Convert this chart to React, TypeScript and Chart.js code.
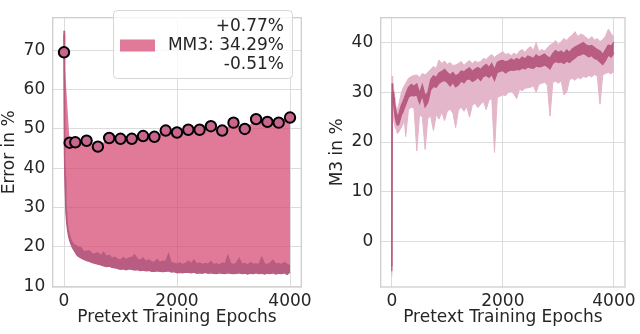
import React, { useEffect, useRef } from "react";
import { Chart, registerables } from "chart.js";

Chart.register(...registerables);

// ---------- data ----------
const EPOCHS = [
  0, 5, 10, 15, 20, 30, 40, 50, 60, 80,
  100, 125, 150, 175, 200, 225, 250, 300, 350, 400,
  450, 500, 550, 600, 650, 700, 750, 800, 850, 900,
  950, 1000, 1050, 1100, 1150, 1200, 1250, 1300, 1350, 1400,
  1450, 1500, 1550, 1600, 1650, 1700, 1750, 1800, 1850, 1900,
  1950, 2000, 2050, 2100, 2150, 2200, 2250, 2300, 2350, 2400,
  2450, 2500, 2550, 2600, 2650, 2700, 2750, 2800, 2850, 2900,
  2950, 3000, 3050, 3100, 3150, 3200, 3250, 3300, 3350, 3400,
  3450, 3500, 3550, 3600, 3650, 3700, 3750, 3800, 3850, 3900,
  3950, 4000,
];

// Error in % (upper / lower envelope of the noisy curve)
const ERR_HI = [
  75, 62, 50, 43, 38, 32, 29, 27, 25.8, 24,
  22.8, 21.8, 21, 20.6, 20.4, 20.2, 20, 19.8, 18.8, 18.9,
  19, 18.2, 18.3, 18.5, 17.7, 18.6, 17.6, 17.9, 17.1, 17.4,
  16.9, 16.6, 17.3, 16.7, 17.2, 17.3, 18, 16.9, 16.6, 17.2,
  16.3, 16.7, 16.2, 16.1, 16.8, 16, 16.4, 16.2, 18.2, 16,
  15.8, 15.6, 15.9, 15.5, 15.8, 16.4, 15.7, 16.7, 15.6, 15.9,
  15.5, 15.8, 15.6, 16.3, 15.5, 15.7, 15.4, 15.9, 15.6, 17.8,
  15.8, 15.5, 15.9, 17.1, 15.6, 15.8, 15.4, 16, 15.6, 15.7,
  15.5, 17.3, 15.7, 15.5, 15.9, 16.6, 15.6, 15.8, 15.5, 16,
  15.6, 15.2,
];
const ERR_LO = [
  74, 60, 48, 41, 36.5, 30.5, 27.5, 25.8, 24.6, 22.8,
  21.6, 20.6, 19.8, 19.2, 18.6, 18, 17.6, 17.2, 16.8, 16.5,
  16.3, 16, 15.8, 15.6, 15.4, 15.2, 15, 15.1, 14.8, 14.7,
  14.5, 14.3, 14.4, 14.2, 14.4, 14.3, 14.1, 14.2, 14, 14.1,
  13.9, 14, 13.8, 13.8, 13.9, 13.8, 13.7, 13.8, 13.9, 13.6,
  13.7, 13.4, 13.5, 13.4, 13.6, 13.5, 13.4, 13.6, 13.3, 13.4,
  13.3, 13.5, 13.3, 13.4, 13.3, 13.2, 13.4, 13.3, 13.2, 13.4,
  13.3, 13.2, 13.3, 13.4, 13.2, 13.3, 13.1, 13.3, 13.2, 13.4,
  13.2, 13.3, 13.1, 13.3, 13.2, 13.4, 13.1, 13.3, 13.2, 13.4,
  13, 13.6,
];

const MARK_EPOCHS = [0, 100, 200, 400, 600, 800, 1000, 1200, 1400, 1600, 1800, 2000, 2200, 2400, 2600, 2800, 3000, 3200, 3400, 3600, 3800, 4000];
const MARK_ERR = [69.5, 46.5, 46.6, 47.0, 45.5, 47.7, 47.5, 47.5, 48.2, 48.0, 49.6, 49.1, 49.8, 49.8, 50.7, 49.6, 51.6, 50.0, 52.5, 51.8, 51.6, 52.9];

// M3 in % (light band = envelope of individual runs, dark band = mean)
const M3_LIGHT_HI = [
  -4.5, 33.2, 33, 32.5, 32, 31, 30, 29, 28, 27,
  26.5, 27.5, 28.8, 30, 30.8, 31.3, 31.8, 32.8, 33.2, 33.4,
  33.5, 33, 33.8, 33.5, 34, 34.6, 35.2, 34.8, 36.5, 35.8,
  36.3, 35.6, 36, 35.4, 35.5, 35.8, 36.2, 35.4, 36, 36.4,
  35.8, 36.3, 36, 36.2, 36.8, 36.6, 37.2, 37.6, 37, 37.5,
  37.8, 38.2, 37.6, 37.8, 37.4, 37.9, 37.5, 38.3, 38.6, 38,
  38.8, 39.2, 38.4, 40, 38.2, 38.6, 38.3, 38.9, 39.5, 39.8,
  40.4, 39.6, 40.2, 40.8, 40.4, 41.1, 41.5, 42.2, 41.2, 41.7,
  41.5, 41, 40.6, 41.2, 40.5, 40.8, 40.2, 40.6, 41.3, 42.7,
  41.8, 41,
];
const M3_LIGHT_LO = [
  -7, 29, 28, 27, 26, 25, 24, 23.5, 23, 22.5,
  21.7, 22, 22.5, 23, 23.6, 24.5, 21.1, 26.5, 27, 26.8,
  18.2, 25.5, 25, 18.5, 24.8, 25.2, 22.3, 25.5, 24.6, 26,
  24.3, 26.2, 26.6, 25.8, 22.9, 26.4, 27, 26.2, 27.1, 25,
  27.4, 27.8, 26.9, 27.6, 28.2, 26.5, 28.4, 28.8, 17.9, 29,
  29.2, 29.5, 29.3, 30, 30.2, 29.6, 28.7, 30.6, 30.3, 30.8,
  30.9, 31, 31.3, 30, 31.6, 31.8, 32, 31.5, 25.2, 32,
  32.2, 31.8, 32.3, 29.5, 30, 32.5, 32.8, 32.4, 33, 32.7,
  33.2, 33, 33.4, 33.1, 33.6, 33.3, 27.6, 33.5, 33.8, 34,
  33.7, 34.2,
];
const M3_DARK_HI = [
  -5, 31.8, 31.4, 31, 30.5, 30, 29, 28, 27, 26,
  25.3, 25.5, 26.6, 27.5, 28.1, 28.8, 29.6, 31, 31.6, 31.2,
  31.7, 29.8, 31.5, 29.3, 30, 32.5, 33.3, 33, 33.9, 34.2,
  34.6, 34, 33.5, 34, 33.3, 33.6, 34.3, 34.1, 34.6, 34.9,
  34.2, 34.7, 35, 34.6, 35.2, 35.6, 35, 35.8, 34.6, 36,
  36.3, 36.4, 36.1, 36.3, 36.7, 36.4, 36.8, 36.5, 37.1, 36.7,
  37.3, 37.1, 36.8, 37.5, 37.1, 37.4, 37.7, 37.2, 36.9, 37.8,
  38.4, 38, 38.3, 37.8, 38.5, 38, 38.7, 39.1, 39.4, 39.7,
  40, 39.5, 39.3, 39.4, 39, 38.6, 38.3, 37.6, 38.6, 39.5,
  39.3, 40.1,
];
const M3_DARK_LO = [
  -6, 30, 29.6, 29, 28.5, 28, 27, 26, 25, 24,
  23.4, 23.5, 24.5, 25.5, 26, 26.8, 27.5, 29, 29.4, 29.3,
  29.5, 27.8, 29.4, 27.1, 28, 30.5, 31.2, 31, 31.8, 32.2,
  32.4, 32, 31.3, 32, 31.1, 31.5, 32.3, 31.9, 32.6, 32.7,
  32.2, 32.5, 33, 32.4, 33.2, 33.4, 33, 33.6, 32.4, 34,
  34.2, 34.4, 33.9, 34.3, 34.5, 34.4, 34.6, 34.5, 34.9, 34.7,
  35.1, 34.9, 34.8, 35.3, 35.1, 35.2, 35.5, 35.2, 34.7, 35.8,
  36.2, 36, 36.1, 35.8, 36.3, 36, 36.5, 36.9, 37.4, 37.5,
  37.8, 37.5, 37.1, 37.4, 36.8, 36.6, 36.1, 35.6, 36.4, 37.5,
  37.1, 37.9,
];

const X_TICKS = [0, 2000, 4000];
const ERR_TICKS = [10, 20, 30, 40, 50, 60, 70];
const M3_TICKS = [0, 10, 20, 30, 40];
const LEGEND_LINES = ["+0.77%", "MM3: 34.29%", "-0.51%"];

// ---------- styles ----------
const FONT = "'DejaVu Sans', 'Liberation Sans', sans-serif";
const FS = 17;
const TEXT = "#262626";
const GRID = "#dcdcdc";
const SPINE = "#cccccc";
const PINK_FILL = "rgba(211,66,108,0.7)";
const DARK = "#b85c82";
const LIGHT = "#e4b6c9";
const MARKER = "#c8668e";

function pts(xs: number[], ys: number[]) {
  return xs.map((x, i) => ({ x, y: ys[i] }));
}

const setTicks = (values: number[]) => (scale: any) => {
  scale.ticks = values.map((v) => ({ value: v }));
};

function makeScales(yTicks: number[], yMin: number, yMax: number, yTitle: string, yWidth: number, yTitlePad: number) {
  return {
    x: {
      type: "linear",
      min: -200,
      max: 4200,
      afterBuildTicks: setTicks(X_TICKS),
      afterFit: (s: any) => {
        s.height = 47;
      },
      grid: { color: GRID, lineWidth: 1, drawTicks: false },
      border: { display: false },
      ticks: {
        padding: 4,
        color: TEXT,
        font: { family: FONT, size: FS },
        maxRotation: 0,
        autoSkip: false,
        callback: (v: any) => String(v),
      },
      title: {
        display: true,
        text: "Pretext Training Epochs",
        color: TEXT,
        font: { family: FONT, size: FS, lineHeight: 1.1 },
        padding: { top: 0, bottom: 7 },
      },
    },
    y: {
      type: "linear",
      min: yMin,
      max: yMax,
      afterBuildTicks: setTicks(yTicks),
      afterFit: (s: any) => {
        s.width = yWidth;
      },
      grid: { color: GRID, lineWidth: 1, drawTicks: false },
      border: { display: false },
      ticks: {
        padding: 7.5,
        color: TEXT,
        font: { family: FONT, size: FS },
        autoSkip: false,
        callback: (v: any) => String(v),
      },
      title: {
        display: true,
        text: yTitle,
        color: TEXT,
        font: { family: FONT, size: FS, lineHeight: 1.1 },
        padding: { top: yTitlePad, bottom: 0 },
      },
    },
  };
}

const spinesPlugin = {
  id: "spines",
  afterDatasetsDraw(chart: any) {
    const { ctx, chartArea: a } = chart;
    ctx.save();
    ctx.strokeStyle = SPINE;
    ctx.lineWidth = 1.25;
    ctx.strokeRect(a.left, a.top, a.right - a.left, a.bottom - a.top);
    ctx.restore();
  },
};

const legendPlugin = {
  id: "mm3legend",
  afterDraw(chart: any) {
    const { ctx } = chart;
    ctx.save();
    ctx.beginPath();
    if (ctx.roundRect) ctx.roundRect(113.5, 10.5, 179, 68, 4);
    else ctx.rect(113.5, 10.5, 179, 68);
    ctx.fillStyle = "rgba(255,255,255,0.8)";
    ctx.fill();
    ctx.strokeStyle = "#d6d6d6";
    ctx.lineWidth = 1;
    ctx.stroke();
    ctx.fillStyle = PINK_FILL;
    ctx.fillRect(120, 39.5, 35, 12);
    ctx.fillStyle = TEXT;
    ctx.font = `${FS}px ${FONT}`;
    ctx.textAlign = "right";
    ctx.textBaseline = "alphabetic";
    const ys = [30.8, 50.2, 69];
    LEGEND_LINES.forEach((t, i) => ctx.fillText(t, 284, ys[i]));
    ctx.restore();
  },
};

export default function App() {
  const leftRef = useRef<HTMLCanvasElement | null>(null);
  const rightRef = useRef<HTMLCanvasElement | null>(null);

  useEffect(() => {
    const common = {
      responsive: false,
      animation: false,
      devicePixelRatio: 1,
      plugins: { legend: { display: false }, tooltip: { enabled: false } },
      elements: { line: { tension: 0 }, point: { radius: 0 } },
    };

    const left = new Chart(leftRef.current as HTMLCanvasElement, {
      type: "line",
      data: {
        datasets: [
          {
            label: "markers",
            data: pts(MARK_EPOCHS, MARK_ERR),
            showLine: false,
            pointRadius: 5.2,
            pointBackgroundColor: MARKER,
            pointBorderColor: "#000000",
            pointBorderWidth: 2,
            fill: false,
            order: 0,
          },
          {
            label: "MM3",
            data: pts(MARK_EPOCHS, MARK_ERR),
            borderWidth: 0,
            borderColor: "rgba(0,0,0,0)",
            pointRadius: 0,
            fill: 2,
            backgroundColor: PINK_FILL,
            order: 3,
          },
          {
            label: "errHi",
            data: pts(EPOCHS, ERR_HI),
            borderColor: DARK,
            borderWidth: 1.3,
            pointRadius: 0,
            fill: 3,
            backgroundColor: DARK,
            order: 1,
          },
          {
            label: "errLo",
            data: pts(EPOCHS, ERR_LO),
            borderColor: DARK,
            borderWidth: 1.3,
            pointRadius: 0,
            fill: false,
            order: 1,
          },
        ],
      },
      options: {
        ...common,
        layout: { padding: { left: 0, top: 2.5, right: 640 - 301.3, bottom: 0 } },
        scales: makeScales(ERR_TICKS, 9.8, 78.3, "Error in %", 52.7, 0),
      } as any,
      plugins: [spinesPlugin, legendPlugin],
    } as any);

    const right = new Chart(rightRef.current as HTMLCanvasElement, {
      type: "line",
      data: {
        datasets: [
          {
            label: "darkHi",
            data: pts(EPOCHS, M3_DARK_HI),
            borderColor: DARK,
            borderWidth: 1.3,
            pointRadius: 0,
            fill: 1,
            backgroundColor: DARK,
            order: 0,
          },
          {
            label: "darkLo",
            data: pts(EPOCHS, M3_DARK_LO),
            borderColor: DARK,
            borderWidth: 1.3,
            pointRadius: 0,
            fill: false,
            order: 0,
          },
          {
            label: "lightHi",
            data: pts(EPOCHS, M3_LIGHT_HI),
            borderColor: LIGHT,
            borderWidth: 1,
            pointRadius: 0,
            fill: 3,
            backgroundColor: LIGHT,
            order: 1,
          },
          {
            label: "lightLo",
            data: pts(EPOCHS, M3_LIGHT_LO),
            borderColor: LIGHT,
            borderWidth: 1,
            pointRadius: 0,
            fill: false,
            order: 1,
          },
        ],
      },
      options: {
        ...common,
        layout: { padding: { left: 320, top: 2.5, right: 640 - 629.3, bottom: 0 } },
        scales: makeScales(M3_TICKS, -9.15, 45.0, "M3 in %", 60.7, 8.4),
      } as any,
      plugins: [spinesPlugin],
    } as any);

    return () => {
      left.destroy();
      right.destroy();
    };
  }, []);

  return (
    <div style={{ position: "absolute", left: 0, top: 0, width: 640, height: 334, background: "#ffffff" }}>
      <canvas ref={leftRef} width={640} height={334} style={{ position: "absolute", left: 0, top: 0 }} />
      <canvas ref={rightRef} width={640} height={334} style={{ position: "absolute", left: 0, top: 0 }} />
    </div>
  );
}
